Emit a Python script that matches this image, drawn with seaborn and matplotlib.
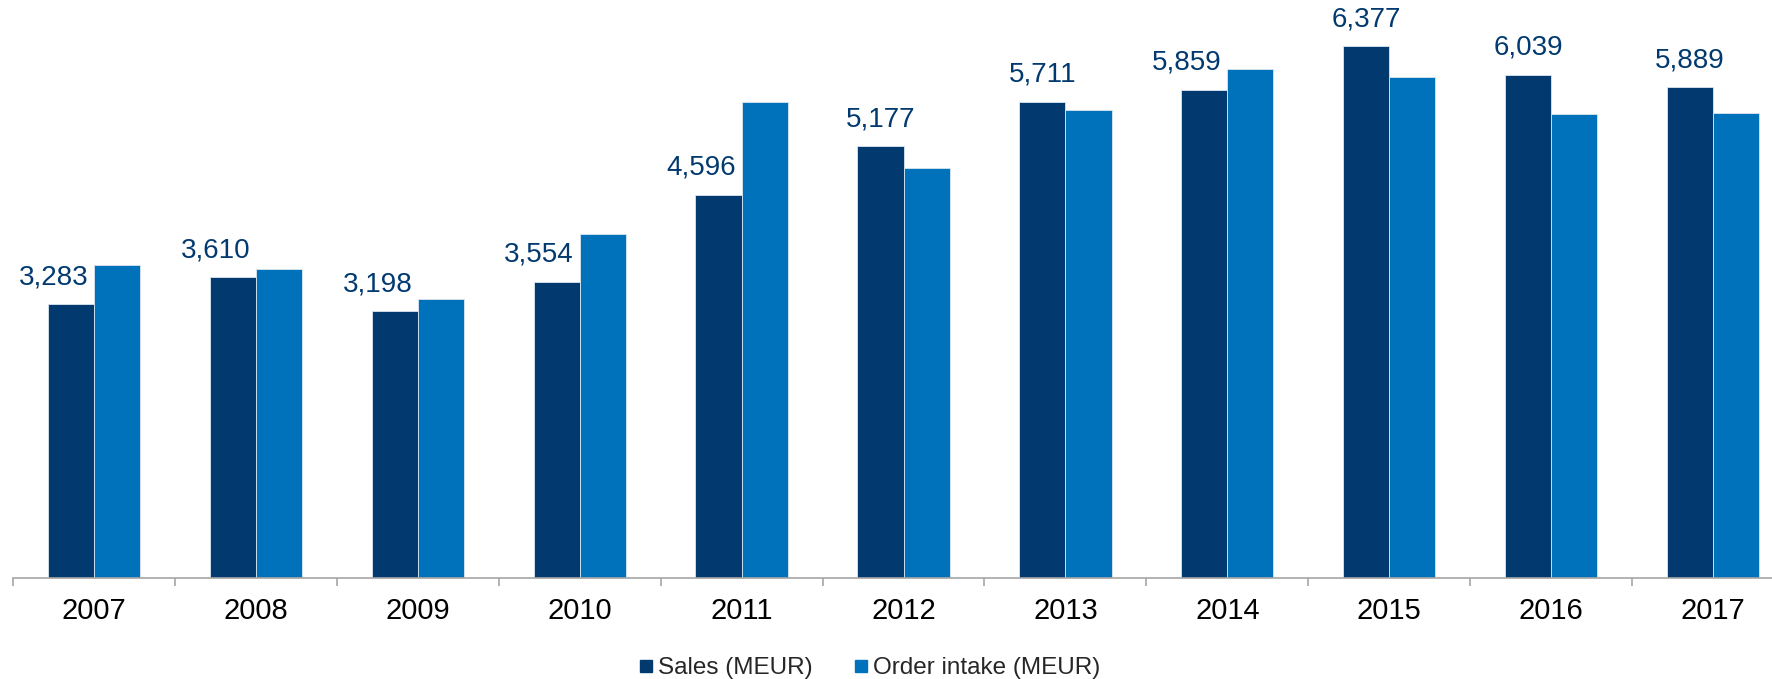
import numpy as np
import pandas as pd
import matplotlib
matplotlib.use('Agg')
import matplotlib.pyplot as plt
from matplotlib.lines import Line2D
import seaborn as sns

# Data
years = ['2007', '2008', '2009', '2010', '2011', '2012', '2013', '2014', '2015', '2016', '2017']
sales = [3283, 3610, 3198, 3554, 4596, 5177, 5711, 5859, 6377, 6039, 5889]
order_intake = [3750, 3705, 3345, 4125, 5705, 4920, 5610, 6105, 6015, 5570, 5580]
series_names = ['Sales (MEUR)', 'Order intake (MEUR)']

SALES_COLOR = '#023A70'
ORDER_COLOR = '#0071BB'
AXIS_GRAY = '#A6A6A6'


def main():
    sns.set_style('white')
    plt.rcParams['font.family'] = ['Liberation Sans', 'DejaVu Sans']

    df = pd.DataFrame({
        'year': years * 2,
        'value': sales + order_intake,
        'series': [series_names[0]] * len(years) + [series_names[1]] * len(years),
    })

    fig = plt.figure(figsize=(17.72, 6.79), dpi=100)
    # axis runs a bit past the right edge, like the original
    ax = fig.add_axes([13 / 1772, 101 / 679, 1781 / 1772, 578 / 679])

    sns.barplot(data=df, x='year', y='value', hue='series', ax=ax,
                palette=[SALES_COLOR, ORDER_COLOR], saturation=1, width=0.57,
                edgecolor='#DCE6F0', linewidth=0.6, legend=False)

    ax.set_xlim(-0.5, len(years) - 0.5)
    ax.set_ylim(0, 6933)

    # data labels on the sales bars
    sales_bars = ax.containers[0]
    for bar, s, o in zip(sales_bars, sales, order_intake):
        top = bar.get_height()
        if o >= s:
            # label pushed left so it does not sit over the taller order bar
            x = bar.get_x() + bar.get_width()
            ax.annotate(f'{s:,}', (x, top), xytext=(-4, 10), textcoords='offset points',
                        ha='right', va='bottom', fontsize=20, color=SALES_COLOR)
        else:
            x = bar.get_x() + bar.get_width() / 2
            ax.annotate(f'{s:,}', (x, top), xytext=(0, 10), textcoords='offset points',
                        ha='center', va='bottom', fontsize=20, color=SALES_COLOR)

    # axes styling
    for side in ['left', 'right', 'top']:
        ax.spines[side].set_visible(False)
    ax.spines['bottom'].set_color(AXIS_GRAY)
    ax.spines['bottom'].set_linewidth(1.2)
    ax.set_yticks([])
    ax.set_xlabel('')
    ax.set_ylabel('')
    ax.tick_params(axis='x', which='major', bottom=False, length=0, labelsize=21,
                   pad=14, colors='black')
    ax.set_xticks(np.arange(-0.5, len(years), 1.0), minor=True)
    ax.tick_params(axis='x', which='minor', bottom=True, direction='out', length=6,
                   width=1.2, color=AXIS_GRAY)

    handles = [Line2D([], [], marker='s', linestyle='', markersize=9, color=c)
               for c in [SALES_COLOR, ORDER_COLOR]]
    fig.legend(handles, series_names, loc='center', bbox_to_anchor=(0.49, 0.016),
               ncol=2, frameon=False, fontsize=17.5, handletextpad=0.1,
               columnspacing=1.6, handlelength=0.8)

    fig.savefig('out.png', dpi=100)


if __name__ == "__main__":
    main()
